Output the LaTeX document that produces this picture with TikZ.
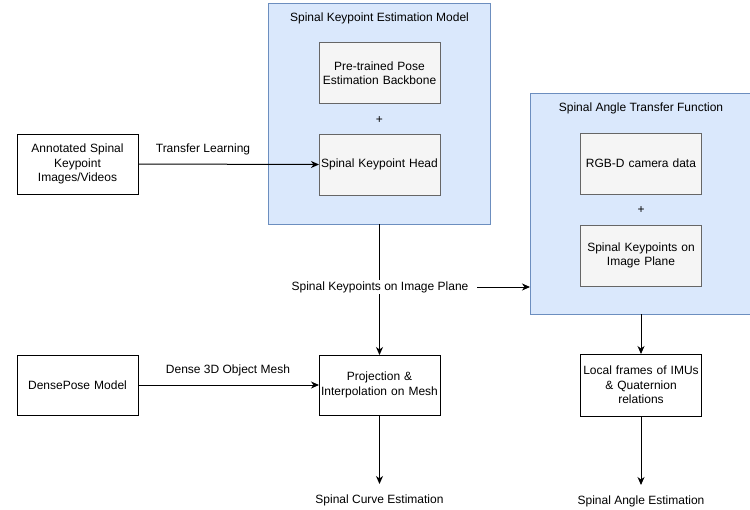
\documentclass[tikz,border=0pt]{standalone}
\usepackage{fontspec}
\setmainfont{Liberation Sans}
\usetikzlibrary{arrows.meta}
\definecolor{grpfill}{HTML}{DAE8FC}
\definecolor{grpdraw}{HTML}{6C8EBF}
\definecolor{innfill}{HTML}{F5F5F5}
\definecolor{inndraw}{HTML}{666666}
\tikzset{
  every node/.style={font=\fontsize{12}{14.5}\selectfont, inner sep=0pt, outer sep=0pt},
  group/.style={draw=grpdraw, fill=grpfill, line width=1pt, minimum width=222pt, minimum height=221pt},
  inner/.style={draw=inndraw, fill=innfill, line width=1pt, minimum width=121pt, minimum height=61pt, align=center, text width=118pt},
  plain/.style={draw=black, fill=white, line width=1pt, minimum width=121pt, minimum height=60pt, align=center, text width=118pt},
  lbl/.style={fill=white, inner sep=1pt, align=center},
  conn/.style={line width=1pt, -{Stealth[length=8pt,width=7pt,inset=2.5pt]}},
}
\begin{document}
\begin{tikzpicture}[x=1pt,y=-1pt]
\useasboundingbox (0,0) rectangle (750,509);
\fill[white] (0,0) rectangle (750,509);
\begin{scope}
\clip (0,0) rectangle (750,509);
% group boxes
\node[group] (g1) at (379.5,113.5) {};
\node[group] (g2) at (641,203.5) {};
\end{scope}
\node (g1t) at (379.5,18) {Spinal Keypoint Estimation Model};
\node (g2t) at (641,108) {Spinal Angle Transfer Function};
% inner boxes
\node[inner] (pre) at (379.5,73) {Pre-trained Pose\\Estimation Backbone};
\node (p1) at (379.5,120) {+};
\node[inner] (head) at (379.5,164.5) {Spinal Keypoint Head};
\node[inner] (rgb) at (641,163.5) {RGB-D camera data};
\node (p2) at (641,210) {+};
\node[inner] (kpin) at (641,255.5) {Spinal Keypoints on\\Image Plane};
% plain boxes
\node[plain] (ann) at (77.5,164) {Annotated Spinal\\Keypoint\\Images/Videos};
\node[plain] (dense) at (77.5,385) {DensePose Model};
\node[plain] (proj) at (379.5,385) {Projection \&\\Interpolation on Mesh};
\node[plain, minimum height=62pt] (local) at (641,385) {Local frames of IMUs\\\& Quaternion\\relations};
% outputs
\coordinate (c1) at (379.5,484);
\coordinate (c2) at (641,485);
\node (curve) at (379.5,500) {Spinal Curve Estimation};
\node (angle) at (641,501) {Spinal Angle Estimation};
% connectors
\draw[conn] (ann.east) -- (head.west);
\node (tl) at (203,149) {Transfer Learning};
\draw[conn] (dense.east) -- (proj.west);
\node (dm) at (228,370) {Dense 3D Object Mesh};
\draw[conn] (g1.south) -- (proj.north);
\node[lbl] (kp) at (380,287) {Spinal Keypoints on Image Plane};
\draw[conn] (kp.east) ++(8pt,0) -- (kp.east -| g2.west);
\draw[conn] (proj.south) -- (c1);
\draw[conn] (g2.south -| local.north) -- (local.north);
\draw[conn] (local.south) -- (c2);
\end{tikzpicture}
\end{document}
